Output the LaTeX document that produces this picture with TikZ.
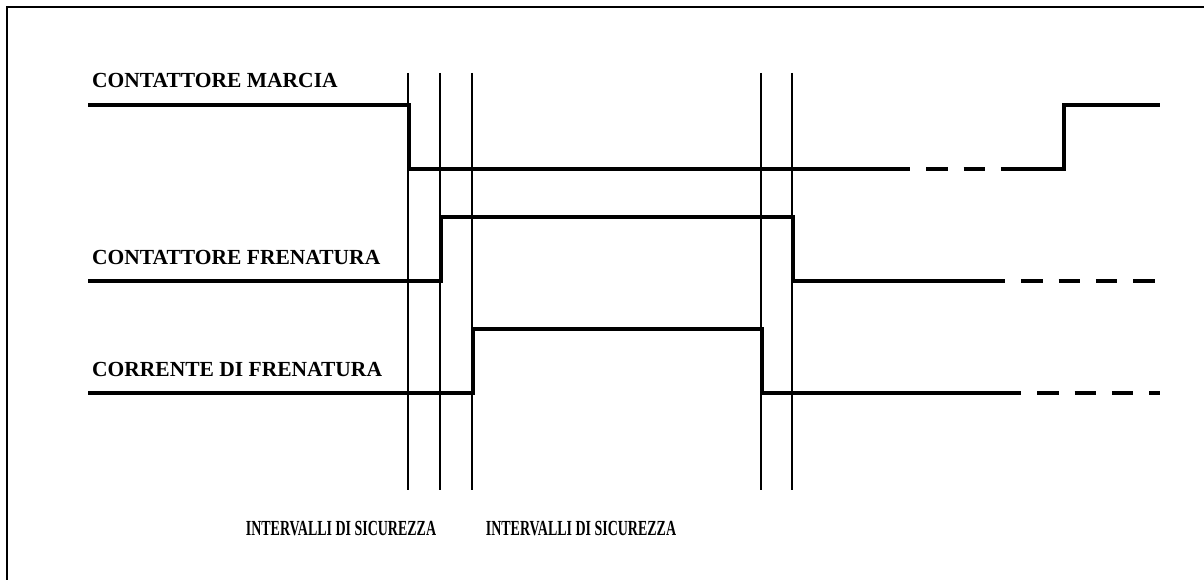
\documentclass[tikz,border=0pt]{standalone}
\usepackage{fontspec}
\setmainfont{Liberation Serif}
\begin{document}
\begin{tikzpicture}[x=1pt,y=-1pt,
  lbl/.style={inner sep=0pt,font=\fontsize{21.5}{25}\selectfont\bfseries},
  sig/.style={line width=4.3pt},
  sigdash/.style={line width=4.3pt,dash pattern=on 21.3pt off 16pt},
  guide/.style={line width=1.2pt},
  frame/.style={line width=2pt}]
\useasboundingbox (0,0) rectangle (1204,580);

% frame (left and top edges)
\draw[frame] (6.5,580) -- (6.5,7.5) -- (1204,7.5);

% signal names
\node[lbl,anchor=base west] (lmarcia) at (92,88) {CONTATTORE MARCIA};
\node[lbl,anchor=base west] (lfren) at (92,264) {CONTATTORE FRENATURA};
\node[lbl,anchor=base west] (lcorr) at (92,376) {CORRENTE DI FRENATURA};

% safety interval markers
\foreach \x in {408,440,472,761,792}
  \draw[guide] (\x,73) -- (\x,490);

\node[lbl,anchor=base] (int1) at (341,535) {\scalebox{0.65}[1]{INTERVALLI DI SICUREZZA}};
\node[lbl,anchor=base] (int2) at (581,535) {\scalebox{0.65}[1]{INTERVALLI DI SICUREZZA}};

% run contactor
\draw[sig] (88,105) -- (409,105) -- (409,169) -- (889,169);
\draw[sigdash] (889,169) -- (1001,169);
\draw[sig] (1001,169) -- (1064,169) -- (1064,105) -- (1160,105);

% braking contactor
\draw[sig] (88,281) -- (441,281) -- (441,217) -- (793,217) -- (793,281) -- (984,281);
\draw[sigdash] (984,281) -- (1155,281);

% braking current
\draw[sig] (88,393) -- (473,393) -- (473,329) -- (762,329) -- (762,393) -- (1000,393);
\draw[sigdash] (1000,393) -- (1160,393);
\end{tikzpicture}
\end{document}
